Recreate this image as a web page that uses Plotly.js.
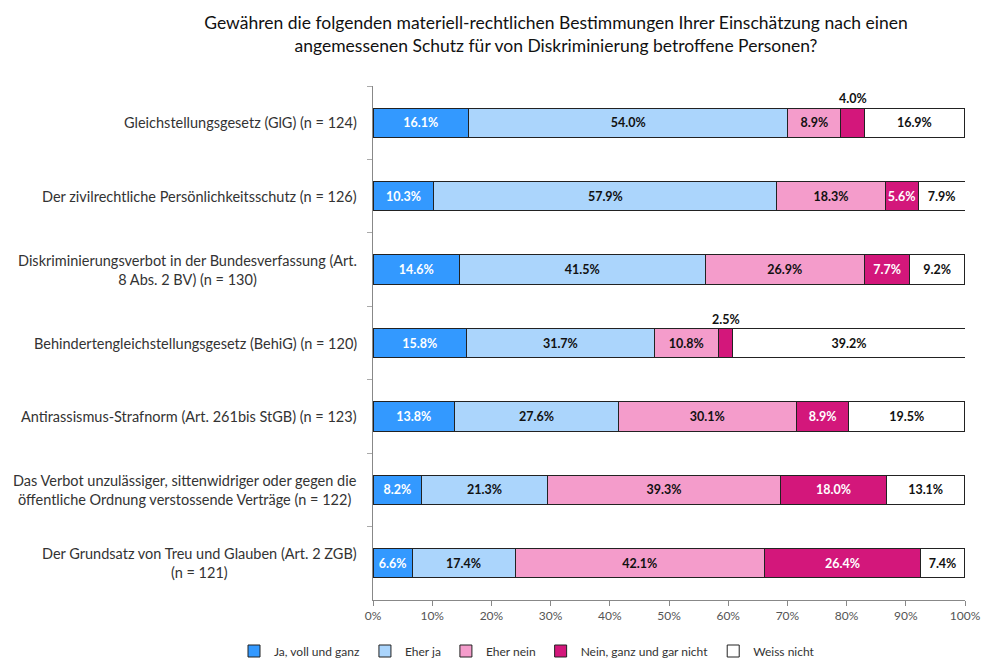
<!DOCTYPE html>
<html>
<head>
<meta charset="utf-8">
<script src="https://cdn.plot.ly/plotly-3.0.1.min.js"></script>
<style>html,body{margin:0;padding:0;background:#fff;}#chart{width:981px;height:659px;}</style>
</head>
<body>
<div id="chart"></div>
<script>
const categories = [
  "Gleichstellungsgesetz (GlG) (n = 124)",
  "Der zivilrechtliche Persönlichkeitsschutz (n = 126)",
  "Diskriminierungsverbot in der Bundesverfassung (Art.<br>8 Abs. 2 BV) (n = 130)",
  "Behindertengleichstellungsgesetz (BehiG) (n = 120)",
  "Antirassismus-Strafnorm (Art. 261bis StGB) (n = 123)",
  "Das Verbot unzulässiger, sittenwidriger oder gegen die<br>öffentliche Ordnung verstossende Verträge (n = 122)",
  "Der Grundsatz von Treu und Glauben (Art. 2 ZGB)<br>(n = 121)"
];
const seriesNames = ["Ja, voll und ganz", "Eher ja", "Eher nein", "Nein, ganz und gar nicht", "Weiss nicht"];
const jaVoll     = [16.1, 10.3, 14.6, 15.8, 13.8, 8.2, 6.6];
const eherJa     = [54.0, 57.9, 41.5, 31.7, 27.6, 21.3, 17.4];
const eherNein   = [8.9, 18.3, 26.9, 10.8, 30.1, 39.3, 42.1];
const neinGanz   = [4.0, 5.6, 7.7, 2.5, 8.9, 18.0, 26.4];
const weissNicht = [16.9, 7.9, 9.2, 39.2, 19.5, 13.1, 7.4];
const xTicks = [0,10,20,30,40,50,60,70,80,90,100];

const seriesValues = [jaVoll, eherJa, eherNein, neinGanz, weissNicht];
const colors = ["#3399ff", "#abd5fc", "#f49ccb", "#d3177b", "#ffffff"];
const textColors = ["#ffffff", "#111111", "#111111", "#ffffff", "#111111"];
const minInside = 5;

const font = "Lato, 'Open Sans', sans-serif";
const traces = seriesValues.map((vals, i) => ({
  type: "bar",
  orientation: "h",
  name: seriesNames[i],
  y: categories,
  x: vals,
  width: 0.4,
  marker: {color: colors[i], line: {color: "#222", width: 1}},
  text: vals.map(v => v >= minInside ? v.toFixed(1) + "%" : ""),
  textposition: "inside",
  insidetextanchor: "middle",
  textangle: 0,
  constraintext: "none",
  insidetextfont: {family: font, size: 12.5, color: textColors[i], weight: "bold"},
  hoverinfo: "skip",
  cliponaxis: false
}));

const annotations = [];
categories.forEach((c, ci) => {
  let cum = 0;
  seriesValues.forEach((vals, si) => {
    const v = vals[ci];
    if (v < minInside) {
      annotations.push({
        x: cum + v / 2, y: c, xref: "x", yref: "y",
        text: "<b>" + v.toFixed(1) + "%</b>", showarrow: false,
        yshift: 24, font: {family: font, size: 12.5, color: "#111"}
      });
    }
    cum += v;
  });
});
categories.forEach(c => {
  annotations.push({
    x: 0, xref: "paper", y: c, yref: "y", xanchor: "right", xshift: -14,
    text: c, showarrow: false, align: "center",
    font: {family: font, size: 14.5, color: "#333"}
  });
});

const layout = {
  width: 981, height: 659,
  margin: {l: 373, r: 16, t: 86, b: 59},
  paper_bgcolor: "#fff", plot_bgcolor: "#fff",
  barmode: "stack",
  font: {family: font, color: "#333"},
  title: {
    text: "Gewähren die folgenden materiell-rechtlichen Bestimmungen Ihrer Einschätzung nach einen<br>angemessenen Schutz für von Diskriminierung betroffene Personen?",
    x: 556 / 981, xanchor: "center", xref: "container",
    y: 1 - 29 / 659, yanchor: "middle", yref: "container",
    font: {family: font, size: 17.5, color: "#111"}
  },
  xaxis: {
    range: [0, 100], tickvals: xTicks, ticktext: xTicks.map(t => t + "%"),
    showgrid: false, zeroline: false, showline: true, linecolor: "#888", linewidth: 1,
    ticks: "outside", ticklen: 5, tickcolor: "#888",
    tickfont: {family: font, size: 12, color: "#555"}, fixedrange: true
  },
  yaxis: {
    autorange: "reversed", type: "category",
    showgrid: false, zeroline: false, showline: true, linecolor: "#888", linewidth: 1,
    ticks: "outside", ticklen: 5, tickcolor: "#aaa", tickson: "boundaries",
    showticklabels: false, fixedrange: true
  },
  showlegend: true,
  legend: {
    orientation: "h", xref: "paper", x: (527 - 373) / 592, xanchor: "center",
    yref: "container", y: 8 / 659, yanchor: "middle",
    font: {family: font, size: 12, color: "#333"},
    traceorder: "normal", itemwidth: 30
  },
  uniformtext: {minsize: 12, mode: "show"},
  annotations: annotations
};

Plotly.newPlot("chart", traces, layout, {displayModeBar: false, staticPlot: true});
</script>
</body>
</html>
